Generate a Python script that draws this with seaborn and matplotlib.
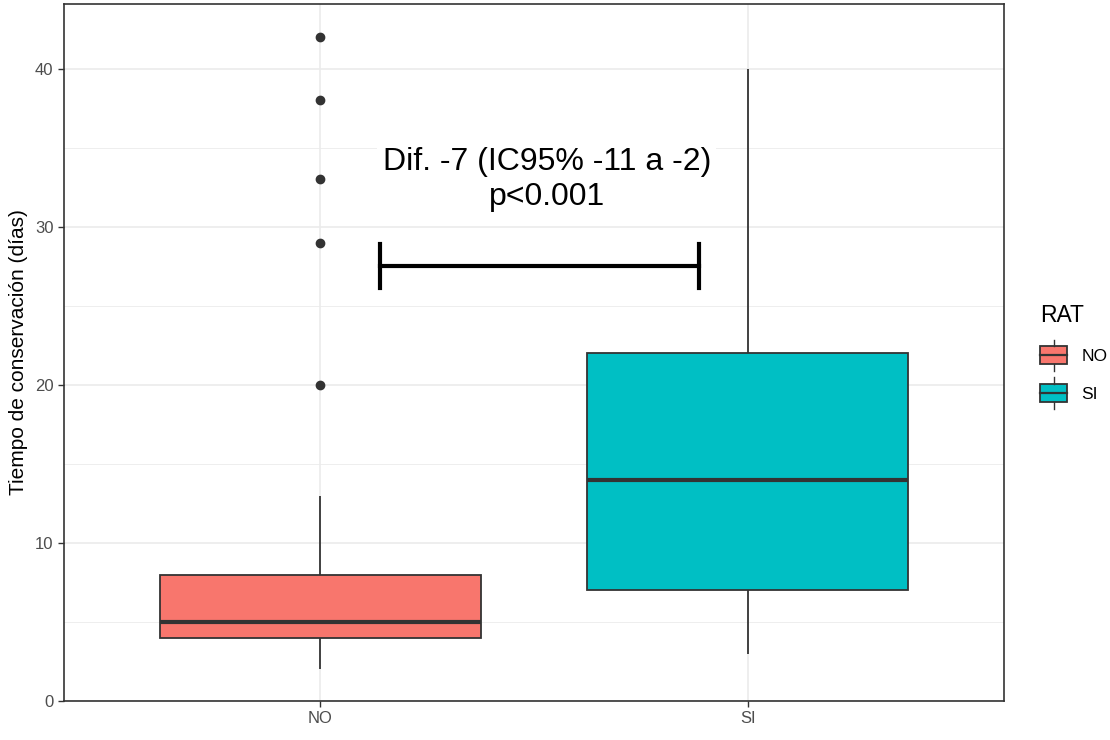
import matplotlib
matplotlib.use("Agg")
import matplotlib.pyplot as plt
import seaborn as sns
import pandas as pd
from matplotlib.legend_handler import HandlerBase
from matplotlib.patches import Rectangle
from matplotlib.lines import Line2D

# ------------------------------------------------------------
# Data (observations read back from the box summaries)
# ------------------------------------------------------------
groups = ["NO", "SI"]
palette = {"NO": "#F8766D", "SI": "#00BFC4"}

tiempo_no = [2, 3, 3, 3, 3, 4, 4, 4, 4, 4, 5, 5, 5, 5, 5, 6, 6, 6, 7, 7,
             8, 8, 10, 13, 20, 29, 33, 38, 42]
tiempo_si = [3, 4, 5, 6, 7, 7, 9, 10, 12, 13, 14, 15, 17, 19, 21, 22, 25,
             28, 30, 35, 40]

# difference bar and label
bar_x = [0.14, 0.885]
bar_y = 27.5
bar_cap = 1.4
label_text = "Dif. -7 (IC95% -11 a -2)\np<0.001"
label_pos = (0.53, 33.0)

df = pd.DataFrame({
    "RAT": ["NO"] * len(tiempo_no) + ["SI"] * len(tiempo_si),
    "tiempo": tiempo_no + tiempo_si,
})

DARK = "#333333"
GRID = "#EBEBEB"

plt.rcParams["font.family"] = ["Liberation Sans", "DejaVu Sans"]

fig = plt.figure(figsize=(11.1, 7.4), dpi=100)
ax = fig.add_axes([64 / 1110, 39 / 740, 940 / 1110, 697 / 740])

# grid like theme_bw
for v in [5, 15, 25, 35]:
    ax.axhline(v, color=GRID, lw=0.6, zorder=0)
for v in [0, 10, 20, 30, 40]:
    ax.axhline(v, color=GRID, lw=1.2, zorder=0)
for v in [0, 1]:
    ax.axvline(v, color=GRID, lw=1.2, zorder=0)

sns.boxplot(
    data=df, x="RAT", y="tiempo", hue="RAT", palette=palette, order=groups,
    width=0.75, saturation=1, linecolor=DARK, linewidth=1.3, legend=False,
    ax=ax, showcaps=False,
    medianprops=dict(color=DARK, linewidth=3),
    flierprops=dict(marker="o", markersize=6, markerfacecolor=DARK,
                    markeredgecolor=DARK),
)

# difference bar
ax.plot(bar_x, [bar_y, bar_y], color="black", lw=3, zorder=5)
for xv in bar_x:
    ax.plot([xv, xv], [bar_y - bar_cap, bar_y + bar_cap], color="black",
            lw=3, zorder=5)

ax.text(label_pos[0], label_pos[1], label_text, ha="center", va="center",
        fontsize=23, color="black", linespacing=1.2, zorder=6,
        bbox=dict(facecolor="white", edgecolor="none", pad=4))

ax.set_xlim(-0.6, 1.6)
ax.set_ylim(0, 44.1)
ax.set_yticks([0, 10, 20, 30, 40])
ax.set_xlabel("")
ax.set_ylabel("Tiempo de conservación (días)", fontsize=15, color="black",
              labelpad=5)
ax.tick_params(axis="both", colors=DARK, labelcolor="#4D4D4D",
               labelsize=12, length=4, width=1)
for s in ax.spines.values():
    s.set_color(DARK)
    s.set_linewidth(1.2)


# legend key drawn as a small boxplot glyph
class BoxHandler(HandlerBase):
    def create_artists(self, legend, orig_handle, xdescent, ydescent,
                       width, height, fontsize, trans):
        col = orig_handle.get_facecolor()
        x0, y0 = -xdescent, -ydescent
        rect = Rectangle((x0, y0), width, height,
                         facecolor=col, edgecolor=DARK, lw=1.3,
                         transform=trans)
        med = Line2D([x0, x0 + width], [y0 + height / 2] * 2, color=DARK,
                     lw=1.6, transform=trans)
        w1 = Line2D([x0 + width / 2] * 2, [y0 + height, y0 + height * 1.35],
                    color=DARK, lw=1, transform=trans)
        w2 = Line2D([x0 + width / 2] * 2, [y0 - height * 0.35, y0],
                    color=DARK, lw=1, transform=trans)
        return [rect, med, w1, w2]


handles = [Rectangle((0, 0), 1, 1, facecolor=palette[g]) for g in groups]
leg = fig.legend(handles, groups, title="RAT", loc="upper left",
                 bbox_to_anchor=(1024 / 1110, 1 - 288 / 740),
                 frameon=False, fontsize=12.5, title_fontsize=16.5,
                 handler_map={Rectangle: BoxHandler()},
                 handlelength=1.6, handleheight=1.25, labelspacing=1.12,
                 handletextpad=0.8, alignment="left")

fig.savefig("out.png", dpi=100)
